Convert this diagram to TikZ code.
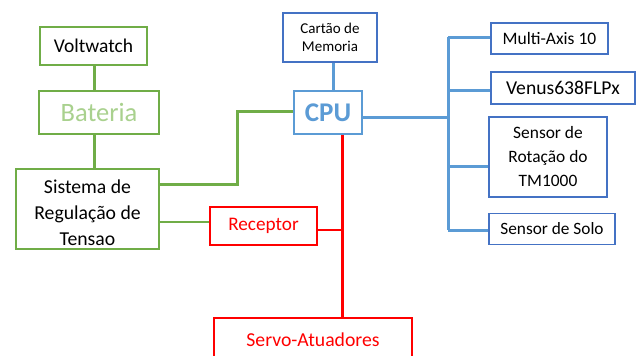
\documentclass[tikz,border=0pt]{standalone}
\usepackage{fontspec}
\setmainfont{Carlito}

\definecolor{boxgreen}{HTML}{70AD47}
\definecolor{lightgreen}{HTML}{A9D18E}
\definecolor{lineblue}{HTML}{5B9BD5}
\definecolor{boxblue}{HTML}{4472C4}
\definecolor{boxred}{HTML}{FF0000}

\tikzset{
    gbox/.style={draw=boxgreen, line width=1.5pt, fill=white, align=center, inner sep=0pt},
    bbox/.style={draw=boxblue, line width=1.5pt, fill=white, align=center, inner sep=0pt},
    rbox/.style={draw=boxred, line width=1.5pt, fill=white, align=center, inner sep=0pt, text=boxred},
    gline/.style={draw=boxgreen, line width=3pt},
    gthin/.style={draw=boxgreen, line width=2pt},
    bline/.style={draw=lineblue, line width=3pt},
    rline/.style={draw=boxred, line width=3pt}
}

\begin{document}
\begin{tikzpicture}[x=1pt, y=-1pt]
    % Page frame
    \useasboundingbox (0,0) rectangle (640,356);

    % Named points for the wire bends
    \coordinate (gwire) at (94,0);
    \coordinate (gbend) at (237,111);
    \coordinate (rtrunk) at (342,0);
    \coordinate (btrunk) at (448,117);
    \coordinate (btop) at (448,37);
    \coordinate (bbottom) at (448,230);

    % Power side
    \node[gbox, minimum width=107pt, minimum height=38pt,
          font=\fontsize{19.5}{23}\selectfont] (volt) at (93.5,46) {Voltwatch};
    \node[gbox, minimum width=120pt, minimum height=43pt, text=lightgreen,
          font=\fontsize{26.5}{30}\selectfont] (bat) at (99,112.5) {Bateria};
    \node[gbox, minimum width=143pt, minimum height=80pt,
          font=\fontsize{19.7}{26}\selectfont] (reg) at (87.5,209) {\rule{0pt}{21pt}Sistema de\\Regulação de\\Tensao};

    % Processor and storage
    \node[draw=lineblue, line width=1.5pt, fill=white, inner sep=0pt,
          minimum width=68pt, minimum height=43pt, text=lineblue,
          font=\fontsize{27}{30}\selectfont\bfseries] (cpu) at (328,112.5) {CPU};
    \node[bbox, minimum width=94pt, minimum height=49pt,
          font=\fontsize{15}{17.5}\selectfont] (mem) at (330,37.5) {Cartão de\\Memoria};

    % Radio and actuators
    \node[rbox, minimum width=107pt, minimum height=38pt,
          font=\fontsize{19.2}{23}\selectfont] (rx) at (263.5,226) {Receptor};
    \node[rbox, minimum width=198pt, minimum height=44pt,
          font=\fontsize{19.7}{23}\selectfont] (servo) at (313,340) {Servo-Atuadores};

    % Sensors
    \node[bbox, minimum width=117pt, minimum height=31pt,
          font=\fontsize{17.5}{21}\selectfont] (imu) at (549.5,38.5) {Multi-Axis 10};
    \node[bbox, minimum width=144pt, minimum height=32pt,
          font=\fontsize{19.6}{23}\selectfont] (gps) at (563,88) {Venus638FLPx};
    \node[bbox, minimum width=118pt, minimum height=80pt,
          font=\fontsize{17.4}{24}\selectfont] (rot) at (548,157) {Sensor de\\Rotação do\\TM1000};
    \node[bbox, minimum width=126pt, minimum height=31pt,
          font=\fontsize{17.3}{21}\selectfont] (solo) at (552,229) {Sensor de Solo};

    % Green wires
    \draw[gline] (volt.south -| gwire) -- (bat.north -| gwire);
    \draw[gline] (bat.south -| gwire) -- (reg.north -| gwire);
    \draw[gline] (reg.east |- 0,184) -| (gbend) -- (gbend -| cpu.west);
    \draw[gthin] (reg.east |- 0,222) -- (rx.west |- 0,222);

    % Red wires
    \draw[rline] (cpu.south -| rtrunk) -- (servo.north -| rtrunk);
    \draw[rline, line width=2pt] (rx.east |- 0,230) -- (rtrunk |- 0,230);

    % Blue wires
    \draw[bline] (mem.south -| 333,0) -- (cpu.north -| 333,0);
    \draw[bline] (cpu.east |- btrunk) -- (btrunk);
    \draw[bline] (btop) -- (bbottom);
    \draw[bline] (btop) -- (btop -| imu.west);
    \draw[bline] (448,90) -- (gps.west |- 0,90);
    \draw[bline] (448,166) -- (rot.west |- 0,166);
    \draw[bline] (bbottom) -- (bbottom -| solo.west);
\end{tikzpicture}
\end{document}
